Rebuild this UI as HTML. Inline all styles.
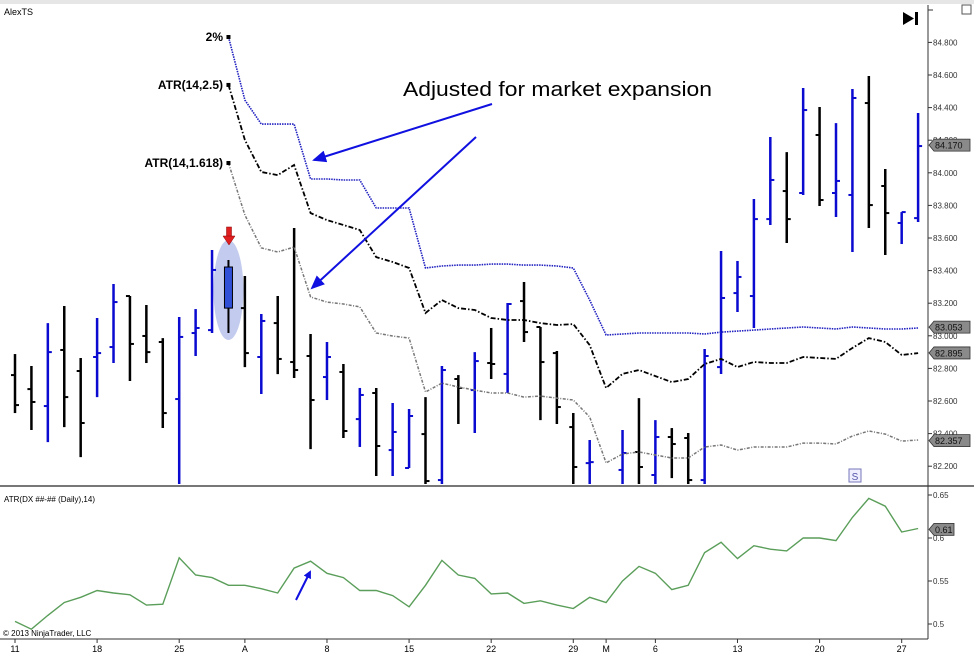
<!DOCTYPE html>
<html><head><meta charset="utf-8">
<style>
html,body{margin:0;padding:0;background:#fff;}
svg{display:block;font-family:"Liberation Sans",sans-serif;}
</style></head>
<body>
<svg id="chart" width="974" height="663" viewBox="0 0 974 663" xmlns="http://www.w3.org/2000/svg">
<rect x="0" y="0" width="974" height="663" fill="#fff"/>
<rect x="0" y="0" width="974" height="4" fill="#e6e6e6"/>
<g id="plot"></g>
<text x="4" y="15" font-size="9" fill="#000">AlexTS</text>
<text x="4" y="502" font-size="8" fill="#000">ATR(DX ##-## (Daily),14)</text>
<text x="3" y="636" font-size="8" fill="#000">© 2013 NinjaTrader, LLC</text>
<g><polygon points="903,12 903,25 914,18.5" fill="#000"/><rect x="915" y="12" width="3" height="13" fill="#000"/></g>
<rect x="962" y="5" width="9" height="9" fill="#fff" stroke="#555" stroke-width="1"/>
<g><rect x="849" y="469" width="12" height="13" fill="#eef" stroke="#77b" stroke-width="1"/><text x="855" y="480" font-size="10" fill="#55a" text-anchor="middle">S</text></g>
<text x="223" y="41" font-size="12" font-weight="bold" text-anchor="end">2%</text>
<text x="223" y="89" font-size="12" font-weight="bold" text-anchor="end">ATR(14,2.5)</text>
<text x="223" y="167" font-size="12" font-weight="bold" text-anchor="end">ATR(14,1.618)</text>
<text x="403" y="96" font-size="20" textLength="309" lengthAdjust="spacingAndGlyphs" fill="#000">Adjusted for market expansion</text>
<defs><marker id="ah" markerWidth="8" markerHeight="8" refX="6" refY="4" orient="auto" markerUnits="userSpaceOnUse"><polygon points="0,0 8,4 0,8" fill="#1010e0"/></marker>
<marker id="ah2" markerWidth="14" markerHeight="12" refX="12" refY="6" orient="auto" markerUnits="userSpaceOnUse"><polygon points="0,0 14,6 0,12" fill="#1010e0"/></marker></defs>
<line x1="492" y1="104" x2="314" y2="160" stroke="#1010e0" stroke-width="2" marker-end="url(#ah2)"/>
<line x1="476" y1="137" x2="312" y2="288" stroke="#1010e0" stroke-width="2" marker-end="url(#ah2)"/>
<line x1="296" y1="600" x2="310" y2="572" stroke="#1010e0" stroke-width="2" marker-end="url(#ah)"/>
<g><rect x="226.5" y="227" width="5" height="10" fill="#e02020" stroke="#800" stroke-width="0.5"/><polygon points="223,236 235,236 229,245" fill="#e02020" stroke="#800" stroke-width="0.5"/></g>
</svg>
<script>
// ---- data ----
const slots = [0,1,2,3,4,5,6,7,8,9,10,11,12,13,14,15,16,17,18,19,20,21,22,23,24,25,26,27,28,29,30,31,32,33,34,35,36,37,38,39,40,41,42,43,44,45,46,47,48,49,50,51,52,53,54,55];
const opens = [82.759,82.673,82.569,82.913,82.784,82.870,82.931,83.244,82.999,82.962,82.612,83.017,83.035,83.170,83.170,82.870,83.078,82.839,82.876,82.747,82.778,82.489,82.649,82.299,82.189,82.397,82.115,82.735,82.667,82.833,82.766,83.213,83.054,82.894,82.440,82.219,82.000,82.177,82.287,82.146,82.379,82.373,82.115,82.808,83.262,83.244,83.716,83.888,83.876,84.232,83.876,83.864,84.428,83.919,83.692,83.722];
const highs = [82.888,82.815,83.078,83.183,82.864,83.109,83.318,83.244,83.189,82.986,83.115,83.164,83.526,83.465,83.367,83.134,83.244,83.661,83.011,82.962,82.827,82.680,82.680,82.588,82.551,82.624,82.815,82.759,82.900,83.048,83.201,83.330,83.054,82.907,82.526,82.361,82.050,82.422,82.618,82.483,82.434,82.404,82.919,83.520,83.459,83.839,84.220,84.127,84.520,84.404,84.305,84.514,84.594,84.023,83.759,84.367];
const lows = [82.526,82.422,82.348,82.440,82.256,82.624,82.833,82.723,82.833,82.434,81.950,82.876,83.017,83.017,82.808,82.643,82.765,82.741,82.305,82.606,82.373,82.318,82.140,82.140,82.189,81.950,81.950,82.459,82.404,82.735,82.649,82.962,82.483,82.459,81.950,81.950,81.700,81.950,81.950,81.950,82.127,81.950,81.950,82.766,83.146,83.048,83.680,83.569,83.864,83.796,83.729,83.514,83.661,83.496,83.563,83.698];
const closes = [82.575,82.594,82.900,82.624,82.465,82.894,83.207,82.950,82.900,82.526,82.993,83.048,83.404,83.422,82.894,83.091,82.858,82.790,82.606,82.870,82.416,82.637,82.324,82.410,82.508,82.109,82.790,82.680,82.845,82.827,83.195,83.023,82.839,82.563,82.195,82.225,81.800,82.281,82.195,82.379,82.336,82.115,82.876,83.232,83.361,83.716,83.956,83.716,84.385,83.833,83.950,84.459,83.802,83.753,83.759,84.164];
const stopStart = 13;
const stop2pct = [84.833,84.446,84.299,84.299,84.299,83.962,83.962,83.956,83.956,83.784,83.784,83.784,83.416,83.428,83.434,83.434,83.440,83.440,83.434,83.434,83.428,83.416,83.219,83.005,83.011,83.017,83.017,83.017,83.017,83.011,83.023,83.029,83.035,83.042,83.048,83.054,83.048,83.042,83.054,83.048,83.042,83.042,83.048];
const stopAtr25 = [84.539,84.201,84.005,83.986,84.048,83.753,83.710,83.680,83.649,83.483,83.453,83.416,83.140,83.219,83.170,83.158,83.109,83.097,83.097,83.078,83.066,83.072,82.943,82.680,82.766,82.790,82.753,82.716,82.735,82.827,82.858,82.808,82.839,82.833,82.833,82.870,82.864,82.858,82.925,82.986,82.962,82.882,82.894];
const stopAtr1618 = [84.060,83.741,83.539,83.514,83.545,83.238,83.207,83.195,83.177,83.017,82.999,82.986,82.655,82.710,82.686,82.667,82.649,82.649,82.624,82.630,82.618,82.606,82.502,82.220,82.275,82.287,82.269,82.250,82.250,82.318,82.330,82.299,82.318,82.318,82.318,82.342,82.342,82.336,82.385,82.416,82.397,82.354,82.361];
const atrValues = [0.503,0.494,0.510,0.525,0.531,0.539,0.536,0.534,0.522,0.523,0.577,0.557,0.554,0.545,0.545,0.541,0.536,0.565,0.573,0.559,0.554,0.539,0.539,0.533,0.520,0.545,0.574,0.557,0.553,0.535,0.536,0.524,0.527,0.522,0.518,0.531,0.525,0.550,0.567,0.559,0.540,0.545,0.583,0.595,0.576,0.591,0.587,0.585,0.600,0.600,0.597,0.624,0.646,0.637,0.607,0.611];
const priceTicks = [82.2,82.4,82.6,82.8,83.0,83.2,83.4,83.6,83.8,84.0,84.2,84.4,84.6,84.8];
const priceTickLabels = ["82.200","82.400","82.600","82.800","83.000","83.200","83.400","83.600","83.800","84.000","84.200","84.400","84.600","84.800"];
const atrTicks = [0.5,0.55,0.6,0.65];
const atrTickLabels = ["0.5","0.55","0.6","0.65"];
const dateSlots = [0,5,10,14,19,24,29,34,36,39,44,49,54];
const dateLabels = ["11","18","25","A","8","15","22","29","M","6","13","20","27"];
const lastLabels = ["84.170","83.053","82.895","82.357"];
const lastValues = [84.17,83.053,82.895,82.357];
const atrLast = 0.61;

// ---- axes ----
const NS = "http://www.w3.org/2000/svg";
const PLOT_R = 928, PRICE_TOP = 5, PRICE_BOT = 486, ATR_TOP = 488, ATR_BOT = 639;
function xs(i){ return 15 + i * 16.42; }
function yp(p){ return 75 + (84.6 - p) * 163; }
function ya(v){ return 538 + (0.6 - v) * 860; }
const plot = document.getElementById('plot');
function mk(tag, attrs, parent){ const e = document.createElementNS(NS, tag); for (const k in attrs) e.setAttribute(k, attrs[k]); (parent||plot).appendChild(e); return e; }

// clip paths
const defs = mk('defs', {});
const cp = mk('clipPath', {id:'cpPrice'}, defs); mk('rect', {x:0, y:PRICE_TOP, width:PLOT_R, height:PRICE_BOT-PRICE_TOP-2}, cp);
const cp2 = mk('clipPath', {id:'cpAtr'}, defs); mk('rect', {x:0, y:ATR_TOP, width:PLOT_R, height:ATR_BOT-ATR_TOP}, cp2);

// frame lines
const sep = mk('line', {x1:0, y1:PRICE_BOT, x2:974, y2:PRICE_BOT, stroke:'#777', 'stroke-width':2});


const ax = mk('line', {x1:PLOT_R, y1:PRICE_TOP, x2:PLOT_R, y2:ATR_BOT, stroke:'#333', 'stroke-width':1});


const bx = mk('line', {x1:0, y1:ATR_BOT, x2:PLOT_R, y2:ATR_BOT, stroke:'#333', 'stroke-width':1});


mk('line', {x1:PLOT_R, y1:10, x2:PLOT_R+5, y2:10, stroke:'#333'});

// price ticks
priceTicks.forEach((p, i) => {
  const y = yp(p);
  mk('line', {x1:PLOT_R, y1:y, x2:PLOT_R+4, y2:y, stroke:'#333'});
  const t = mk('text', {x:PLOT_R+5, y:y+3, 'font-size':8, fill:'#333'});
  t.textContent = priceTickLabels[i];
  
  
});
atrTicks.forEach((v, i) => {
  const y = ya(v);
  mk('line', {x1:PLOT_R, y1:y, x2:PLOT_R+4, y2:y, stroke:'#333'});
  const t = mk('text', {x:PLOT_R+5, y:y+3, 'font-size':8, fill:'#333'});
  t.textContent = atrTickLabels[i];
  
  
});
dateSlots.forEach((s, i) => {
  const x = xs(s);
  mk('line', {x1:x, y1:ATR_BOT, x2:x, y2:ATR_BOT+4, stroke:'#333'});
  const t = mk('text', {x:x, y:652, 'font-size':9, fill:'#000', 'text-anchor':'middle'});
  t.textContent = dateLabels[i];
  
  
});

// highlight ellipse around candle
const hl = mk('ellipse', {cx:xs(13), cy:290, rx:15, ry:50, fill:'#c3ccef'});



// bars
const barG = mk('g', {'clip-path':'url(#cpPrice)'});
slots.forEach((s, i) => {
  const x = xs(s);
  const up = closes[i] > opens[i];
  const col = up ? '#0a0ad0' : '#000';
  const g = mk('g', {}, barG);
  
  
  if (s === 13) {
    mk('line', {x1:x, y1:yp(highs[i]), x2:x, y2:yp(lows[i]), stroke:'#000', 'stroke-width':2}, g);
    const top = yp(Math.max(opens[i], closes[i])), bot = yp(Math.min(opens[i], closes[i]));
    mk('rect', {x:x-4, y:top, width:8, height:bot-top, fill:'#3050d8', stroke:'#000', 'stroke-width':1}, g);
  } else {
    mk('line', {x1:x, y1:yp(highs[i]), x2:x, y2:yp(lows[i]), stroke:col, 'stroke-width':2.5}, g);
    mk('line', {x1:x-4, y1:yp(opens[i]), x2:x, y2:yp(opens[i]), stroke:col, 'stroke-width':2}, g);
    mk('line', {x1:x, y1:yp(closes[i]), x2:x+4, y2:yp(closes[i]), stroke:col, 'stroke-width':2}, g);
  }
});

// stop lines
function stopLine(arr, color, dash, width, name){
  const pts = arr.map((v, k) => xs(stopStart + k).toFixed(1) + ',' + yp(v).toFixed(1)).join(' ');
  const pl = mk('polyline', {points:pts, fill:'none', stroke:color, 'stroke-width':width, 'stroke-dasharray':dash, 'clip-path':'url(#cpPrice)'});
  
  
  const sq = mk('rect', {x:xs(stopStart)-2, y:yp(arr[0])-2, width:4, height:4, fill:'#000'});
  
  
}
stopLine(stop2pct, '#2020c0', '1.5 1', 1.6, 'stop-2pct-line');
stopLine(stopAtr25, '#000', '5 2 1.5 2', 1.8, 'stop-atr-2-5-line');
stopLine(stopAtr1618, '#777', '3 1.5 1 1.5', 1.5, 'stop-atr-1-618-line');

// ATR line
const apts = atrValues.map((v, i) => xs(i).toFixed(1) + ',' + ya(v).toFixed(1)).join(' ');
const al = mk('polyline', {points:apts, fill:'none', stroke:'#5a9e5a', 'stroke-width':1.4, 'clip-path':'url(#cpAtr)'});



// last-value markers
function marker(val, label, yfn, w){
  const y = yfn(val);
  const g = mk('g', {});
  
  
  mk('polygon', {points:`${PLOT_R+1},${y} ${PLOT_R+6},${y-6} ${PLOT_R+6+w},${y-6} ${PLOT_R+6+w},${y+6} ${PLOT_R+6},${y+6}`, fill:'#8a8a8a', stroke:'#333', 'stroke-width':0.8}, g);
  const t = mk('text', {x:PLOT_R+7, y:y+3.5, 'font-size':9, fill:'#111'}, g);
  t.textContent = label;
}
lastValues.forEach((v, i) => marker(v, lastLabels[i], yp, 36));
marker(atrLast, String(atrLast), ya, 20);
</script>
</body></html>
